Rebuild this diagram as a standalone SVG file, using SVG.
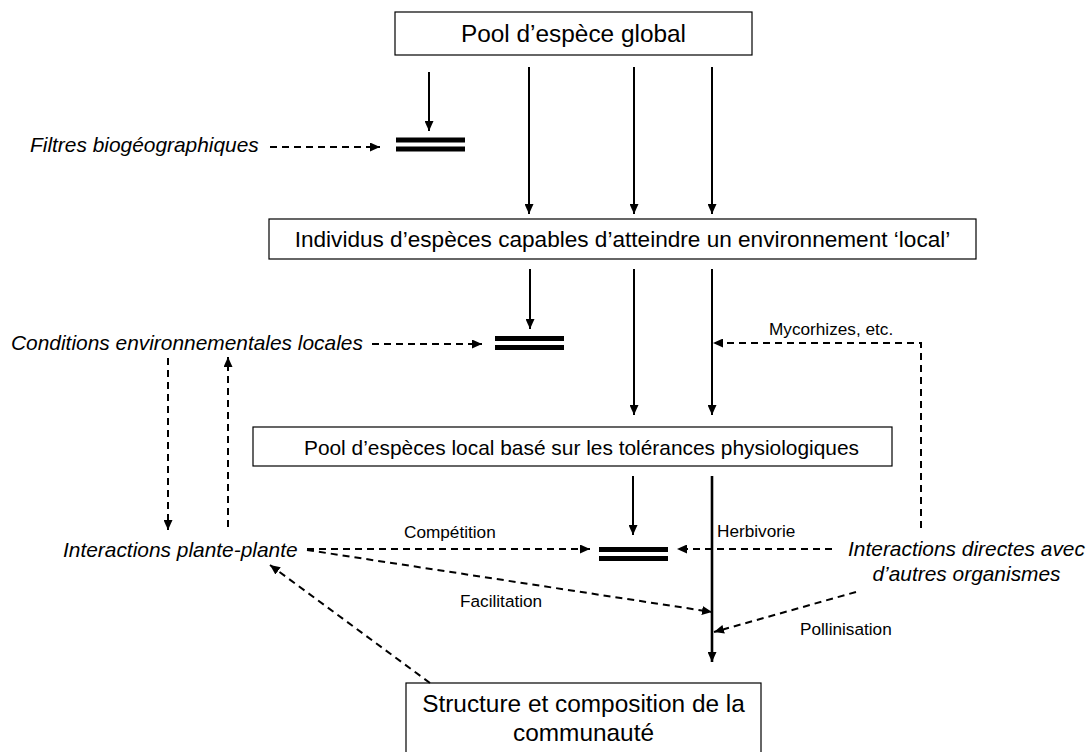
<svg xmlns="http://www.w3.org/2000/svg" width="1091" height="752" viewBox="0 0 1091 752">
<defs>
<style>
.box{fill:#fff;stroke:#000;stroke-width:1.2}
.t{font-family:"Liberation Sans",Arial,sans-serif;fill:#000}
.it{font-family:"Liberation Sans",Arial,sans-serif;font-style:italic;fill:#000;font-size:20.9px}
.sm{font-family:"Liberation Sans",Arial,sans-serif;fill:#000;font-size:17.2px}
.sol{stroke:#000;stroke-width:2;fill:none}
.dash{stroke:#000;stroke-width:2;fill:none;stroke-dasharray:7,5}
.bar{fill:#000}
</style>
<marker id="ah" viewBox="0 0 10 9" refX="10" refY="4.5" markerWidth="10" markerHeight="9" markerUnits="userSpaceOnUse" orient="auto">
<path d="M0,0 L10,4.5 L0,9 z" fill="#000"/>
</marker>
</defs>
<rect width="1091" height="752" fill="#fff"/>

<g id="pool-global">
<rect class="box" x="395" y="12" width="357" height="43"/>
<text class="t" x="573.5" y="42" font-size="24.4" text-anchor="middle">Pool d’espèce global</text>
</g>

<g id="individus">
<rect class="box" x="269" y="219" width="707" height="40"/>
<text class="t" x="622.5" y="247" font-size="22.6" text-anchor="middle">Individus d’espèces capables d’atteindre un environnement ‘local’</text>
</g>

<g id="pool-local">
<rect class="box" x="253" y="427" width="639" height="39"/>
<text class="t" x="581.5" y="455" font-size="20.9" text-anchor="middle">Pool d’espèces local basé sur les tolérances physiologiques</text>
</g>

<g id="structure">
<rect class="box" x="406" y="683" width="355" height="80"/>
<text class="t" x="583.5" y="712" font-size="24.4" text-anchor="middle">Structure et composition de la</text>
<text class="t" x="583.5" y="741" font-size="24.4" text-anchor="middle">communauté</text>
</g>

<g id="filtres">
<text class="it" x="30" y="152">Filtres biogéographiques</text>
</g>
<g id="filter-bar-1">
<rect class="bar" x="396" y="137.5" width="69" height="5"/>
<rect class="bar" x="396" y="146.5" width="69" height="5"/>
</g>

<g id="conditions">
<text class="it" x="11" y="350">Conditions environnementales locales</text>
</g>
<g id="filter-bar-2">
<rect class="bar" x="495" y="336" width="69" height="5"/>
<rect class="bar" x="495" y="345" width="69" height="5"/>
</g>

<g id="plante-plante">
<text class="it" x="63" y="557">Interactions plante-plante</text>
</g>
<g id="filter-bar-3">
<rect class="bar" x="599" y="547" width="69" height="5"/>
<rect class="bar" x="599" y="556" width="69" height="5"/>
</g>

<g id="interactions-directes">
<text class="it" x="966.5" y="556" text-anchor="middle">Interactions directes avec</text>
<text class="it" x="966.5" y="581" text-anchor="middle">d’autres organismes</text>
</g>

<g id="connectors">
<line class="sol" x1="429" y1="72" x2="429" y2="131" marker-end="url(#ah)"/>
<line class="sol" x1="529" y1="67" x2="529" y2="214" marker-end="url(#ah)"/>
<line class="sol" x1="634" y1="67" x2="634" y2="214" marker-end="url(#ah)"/>
<line class="sol" x1="712" y1="67" x2="712" y2="214" marker-end="url(#ah)"/>
<line class="dash" x1="270" y1="147" x2="380" y2="147" marker-end="url(#ah)"/>

<line class="sol" x1="530" y1="269" x2="530" y2="329" marker-end="url(#ah)"/>
<line class="sol" x1="634" y1="269" x2="634" y2="415" marker-end="url(#ah)"/>
<line class="sol" x1="712" y1="269" x2="712" y2="415" marker-end="url(#ah)"/>
<line class="dash" x1="372" y1="344" x2="482" y2="344" marker-end="url(#ah)"/>
<path class="dash" d="M921,528 L921,343 L713,343" marker-end="url(#ah)"/>
<text class="sm" x="769" y="335">Mycorhizes, etc.</text>

<line class="dash" x1="168" y1="358" x2="168" y2="530" marker-end="url(#ah)"/>
<line class="dash" x1="228" y1="527" x2="228" y2="357" marker-end="url(#ah)"/>

<line class="sol" x1="633" y1="476" x2="633" y2="535" marker-end="url(#ah)"/>
<line class="sol" x1="712" y1="476" x2="712" y2="662" marker-end="url(#ah)" style="stroke-width:2.6"/>
<text class="sm" x="717" y="537">Herbivorie</text>

<line class="dash" x1="307" y1="549" x2="590" y2="549" marker-end="url(#ah)"/>
<text class="sm" x="404" y="538">Compétition</text>
<line class="dash" x1="832" y1="549" x2="677" y2="549" marker-end="url(#ah)"/>
<line class="dash" x1="307" y1="550" x2="712" y2="612" marker-end="url(#ah)"/>
<text class="sm" x="460" y="607">Facilitation</text>
<line class="dash" x1="856" y1="592" x2="714" y2="632" marker-end="url(#ah)"/>
<text class="sm" x="800" y="635">Pollinisation</text>
<line class="dash" x1="430" y1="683" x2="270" y2="565" marker-end="url(#ah)"/>
</g>
</svg>
